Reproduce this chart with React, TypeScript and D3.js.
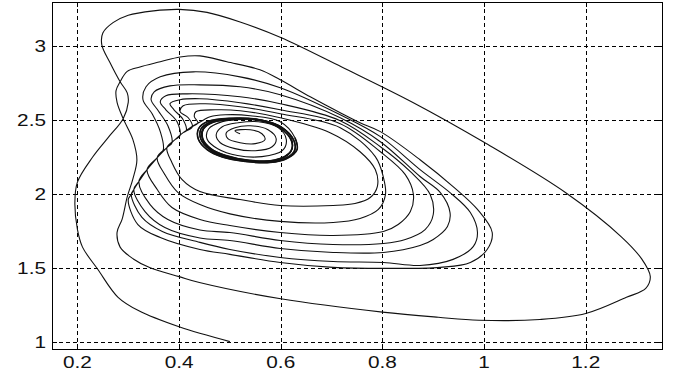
import React from "react";
import * as d3 from "d3";

type Pt = [number, number];

// tick values and labels
const xTicks = [0.2, 0.4, 0.6, 0.8, 1.0, 1.2];
const xTickLabels = ["0.2", "0.4", "0.6", "0.8", "1", "1.2"];
const yTicks = [1, 1.5, 2, 2.5, 3];
const yTickLabels = ["1", "1.5", "2", "2.5", "3"];

// trajectory, one turn at a time (x, y)
const outerLoop: Pt[] = [
  [0.5, 1.0], [0.4, 1.1], [0.32, 1.21], [0.28, 1.3], [0.24, 1.49], [0.21, 1.64],
  [0.2, 1.76], [0.195, 1.94], [0.2, 2.08], [0.23, 2.25], [0.26, 2.38], [0.29, 2.51],
  [0.3, 2.62], [0.298, 2.685], [0.284, 2.76], [0.264, 2.89], [0.248, 3.01], [0.25, 3.09],
  [0.27, 3.16], [0.3, 3.21], [0.35, 3.24], [0.4, 3.25], [0.455, 3.23], [0.52, 3.165],
  [0.6, 3.06], [0.72, 2.86], [0.86, 2.62], [1.0, 2.35], [1.16, 2.01], [1.27, 1.71],
  [1.31, 1.56], [1.327, 1.44], [1.318, 1.36], [1.28, 1.3], [1.2, 1.19], [1.11, 1.15],
  [0.99, 1.145], [0.91, 1.165], [0.8, 1.2], [0.6, 1.29], [0.44, 1.4], [0.4, 1.44],
  [0.343, 1.5], [0.31, 1.56], [0.284, 1.64], [0.278, 1.74], [0.288, 1.83], [0.298, 1.98],
  [0.309, 2.1], [0.317, 2.23], [0.309, 2.37], [0.29, 2.51], [0.278, 2.62], [0.276, 2.7],
  [0.284, 2.76], [0.298, 2.83], [0.323, 2.86], [0.363, 2.895], [0.402, 2.928], [0.441, 2.935],
  [0.494, 2.895], [0.559, 2.841], [0.599, 2.773], [0.658, 2.658], [0.717, 2.55], [0.756, 2.482],
];

const loopB: Pt[] = [
  [0.796, 2.422], [0.874, 2.232], [0.939, 2.05], [0.987, 1.895], [1.016, 1.739], [1.006, 1.624],
  [0.973, 1.536], [0.914, 1.503], [0.802, 1.496], [0.703, 1.503], [0.599, 1.536], [0.5, 1.591],
  [0.441, 1.624], [0.363, 1.705], [0.319, 1.793], [0.3, 1.962], [0.306, 1.996], [0.311, 2.03],
  [0.321, 2.084], [0.337, 2.165], [0.357, 2.246], [0.369, 2.3], [0.363, 2.422], [0.347, 2.543],
  [0.329, 2.638], [0.335, 2.726], [0.363, 2.793], [0.428, 2.827], [0.52, 2.793], [0.599, 2.719],
];

const loopC: Pt[] = [
  [0.717, 2.536], [0.796, 2.388], [0.874, 2.165], [0.933, 2.009], [0.973, 1.874], [0.987, 1.739],
  [0.979, 1.645], [0.939, 1.557], [0.874, 1.516], [0.802, 1.536], [0.703, 1.543], [0.599, 1.57],
  [0.5, 1.624], [0.441, 1.672], [0.367, 1.746], [0.327, 1.841], [0.306, 1.996], [0.311, 2.03],
  [0.321, 2.084], [0.337, 2.165], [0.357, 2.246], [0.376, 2.314], [0.386, 2.347], [0.378, 2.462],
  [0.359, 2.564], [0.345, 2.638], [0.351, 2.692], [0.382, 2.732], [0.441, 2.739], [0.52, 2.726],
  [0.599, 2.672],
];

const loopD: Pt[] = [
  [0.717, 2.516], [0.796, 2.354], [0.874, 2.118], [0.914, 2.009], [0.933, 1.874], [0.928, 1.78],
  [0.9, 1.692], [0.874, 1.651], [0.802, 1.604], [0.703, 1.604], [0.599, 1.631], [0.5, 1.685],
  [0.441, 1.702], [0.372, 1.773], [0.333, 1.881], [0.311, 2.03], [0.321, 2.084], [0.337, 2.165],
  [0.357, 2.246], [0.376, 2.314], [0.392, 2.368], [0.402, 2.395], [0.396, 2.489], [0.374, 2.57],
  [0.363, 2.624], [0.374, 2.665], [0.416, 2.678], [0.52, 2.658], [0.599, 2.611],
];

const loopE: Pt[] = [
  [0.717, 2.496], [0.796, 2.32], [0.855, 2.151], [0.894, 1.996], [0.9, 1.861], [0.884, 1.759],
  [0.845, 1.692], [0.802, 1.665], [0.703, 1.658], [0.599, 1.685], [0.5, 1.739], [0.441, 1.756],
  [0.378, 1.827], [0.343, 1.928], [0.321, 2.084], [0.337, 2.165], [0.357, 2.246], [0.376, 2.314],
  [0.392, 2.368], [0.408, 2.415], [0.414, 2.428], [0.408, 2.503], [0.39, 2.57], [0.382, 2.611],
  [0.402, 2.638], [0.441, 2.645], [0.52, 2.618], [0.599, 2.57],
];

const loopF: Pt[] = [
  [0.717, 2.476], [0.796, 2.286], [0.845, 2.131], [0.861, 1.996], [0.855, 1.881], [0.831, 1.793],
  [0.802, 1.746], [0.703, 1.719], [0.599, 1.739], [0.5, 1.786], [0.441, 1.827], [0.386, 1.908],
  [0.357, 2.03], [0.337, 2.165], [0.357, 2.246], [0.376, 2.314], [0.392, 2.368], [0.408, 2.415],
  [0.426, 2.455], [0.418, 2.516], [0.402, 2.557], [0.408, 2.597], [0.451, 2.611], [0.52, 2.591],
  [0.599, 2.543],
];

const loopG: Pt[] = [
  [0.717, 2.449], [0.786, 2.253], [0.802, 2.111], [0.806, 1.996], [0.792, 1.895], [0.756, 1.834],
  [0.703, 1.807], [0.599, 1.814], [0.5, 1.865], [0.441, 1.928], [0.398, 2.009], [0.372, 2.131],
  [0.357, 2.246], [0.376, 2.314], [0.392, 2.368], [0.408, 2.415], [0.422, 2.449], [0.437, 2.482],
  [0.43, 2.523], [0.433, 2.557], [0.471, 2.57], [0.52, 2.564], [0.599, 2.516],
];

const loopH: Pt[] = [
  [0.697, 2.415], [0.756, 2.286], [0.786, 2.165], [0.79, 2.05], [0.776, 1.976], [0.746, 1.935],
  [0.703, 1.922], [0.599, 1.922], [0.52, 1.962], [0.441, 2.016], [0.406, 2.097], [0.386, 2.212],
  [0.376, 2.314], [0.392, 2.368], [0.408, 2.415], [0.422, 2.449], [0.435, 2.476], [0.449, 2.503],
  [0.461, 2.523], [0.491, 2.536], [0.54, 2.53], [0.599, 2.489],
];

const limitCycle: Pt[] = [
  [0.628, 2.381], [0.632, 2.3], [0.612, 2.24], [0.579, 2.213], [0.53, 2.22], [0.485, 2.25],
  [0.455, 2.3], [0.438, 2.37], [0.438, 2.44], [0.456, 2.49], [0.5, 2.512], [0.556, 2.504],
  [0.6, 2.455], [0.626, 2.36], [0.626, 2.285], [0.594, 2.224], [0.54, 2.222], [0.49, 2.254],
  [0.46, 2.302], [0.443, 2.37], [0.443, 2.44], [0.462, 2.488], [0.506, 2.508], [0.558, 2.498],
  [0.598, 2.448], [0.621, 2.36], [0.62, 2.29], [0.588, 2.229], [0.538, 2.228], [0.492, 2.26],
  [0.463, 2.306], [0.447, 2.37], [0.448, 2.44], [0.467, 2.486], [0.51, 2.505],
];

// second trajectory, from inside the cycle outwards
const innerSpiral: Pt[] = [
  [0.52, 2.408], [0.51, 2.428], [0.54, 2.435], [0.563, 2.408], [0.569, 2.368], [0.55, 2.341],
  [0.52, 2.347], [0.496, 2.374], [0.493, 2.415], [0.51, 2.449], [0.54, 2.462], [0.575, 2.435],
  [0.591, 2.374], [0.583, 2.32], [0.55, 2.293], [0.51, 2.307], [0.481, 2.347], [0.473, 2.401],
  [0.485, 2.455], [0.516, 2.482], [0.556, 2.489], [0.595, 2.449], [0.611, 2.368], [0.603, 2.293],
  [0.563, 2.253], [0.515, 2.26], [0.476, 2.306], [0.455, 2.372], [0.458, 2.44], [0.485, 2.49],
  [0.524, 2.505], [0.563, 2.5], [0.603, 2.449], [0.622, 2.368], [0.619, 2.28], [0.582, 2.222],
  [0.53, 2.228], [0.478, 2.27], [0.45, 2.34], [0.445, 2.43], [0.468, 2.49], [0.515, 2.512],
];

const W = 677;
const H = 372;
const left = 52;
const right = 662;
const top = 2;
const bottom = 349;

export default function App() {
  const x = d3.scaleLinear().domain([0.15, 1.35]).range([left, right]);
  const y = d3.scaleLinear().domain([0.95, 3.3]).range([bottom, top]);

  const line = d3
    .line<Pt>()
    .x((d) => x(d[0]))
    .y((d) => y(d[1]))
    .curve(d3.curveCatmullRom.alpha(0.5));

  const mainTrajectory = [
    ...outerLoop, ...loopB, ...loopC, ...loopD, ...loopE,
    ...loopF, ...loopG, ...loopH, ...limitCycle,
  ];

  const font = "'Liberation Sans', Arial, sans-serif";
  const px = (v: number) => Math.round(v) + 0.5;

  return (
    <svg
      width={W}
      height={H}
      style={{ position: "absolute", left: 0, top: 0, background: "#fff" }}
    >
      <defs>
        <clipPath id="plot">
          <rect x={left} y={top} width={right - left} height={bottom - top} />
        </clipPath>
      </defs>

      {/* grid */}
      <g stroke="#000" strokeWidth={1} strokeDasharray="4,3" shapeRendering="crispEdges">
        {xTicks.map((t) => (
          <line key={"gx" + t} x1={px(x(t))} x2={px(x(t))} y1={top} y2={bottom} />
        ))}
        {yTicks.map((t) => (
          <line key={"gy" + t} x1={left} x2={right} y1={px(y(t))} y2={px(y(t))} />
        ))}
      </g>

      {/* trajectories */}
      <g clipPath="url(#plot)" fill="none" stroke="#111" strokeWidth={1.1}>
        <path d={line(mainTrajectory) || ""} />
        <path d={line(innerSpiral) || ""} />
        <path d={line(limitCycle) || ""} strokeWidth={1.6} />
      </g>

      {/* frame and inner ticks */}
      <rect
        x={left + 0.5}
        y={top + 0.5}
        width={right - left}
        height={bottom - top}
        fill="none"
        stroke="#000"
        strokeWidth={1}
        shapeRendering="crispEdges"
      />
      <g stroke="#000" strokeWidth={1} shapeRendering="crispEdges">
        {xTicks.map((t) => (
          <g key={"tx" + t}>
            <line x1={px(x(t))} x2={px(x(t))} y1={bottom} y2={bottom - 5} />
            <line x1={px(x(t))} x2={px(x(t))} y1={top} y2={top + 5} />
          </g>
        ))}
        {yTicks.map((t) => (
          <g key={"ty" + t}>
            <line x1={left} x2={left + 5} y1={px(y(t))} y2={px(y(t))} />
            <line x1={right} x2={right - 5} y1={px(y(t))} y2={px(y(t))} />
          </g>
        ))}
      </g>

      {/* tick labels */}
      <g fontFamily={font} fontSize={16} fill="#111">
        {xTicks.map((t, i) => (
          <text
            key={"lx" + t}
            transform={`translate(${x(t)},${368}) scale(1.3,1)`}
            textAnchor="middle"
          >
            {xTickLabels[i]}
          </text>
        ))}
        {yTicks.map((t, i) => (
          <text
            key={"ly" + t}
            transform={`translate(${46},${y(t) + 6}) scale(1.3,1)`}
            textAnchor="end"
          >
            {yTickLabels[i]}
          </text>
        ))}
      </g>
    </svg>
  );
}
